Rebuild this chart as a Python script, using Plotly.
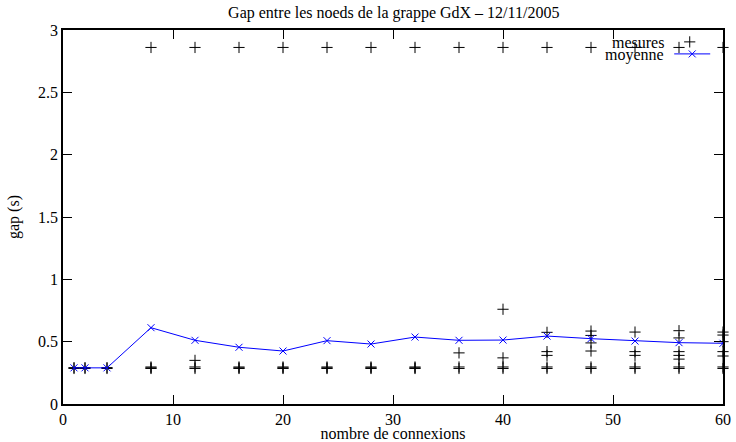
import plotly.graph_objects as go

# measured gap values (s) per number of connections
meas_x = [1, 1, 2, 2, 4, 4,
          8, 8, 8, 8,
          12, 12, 12, 12,
          16, 16, 16, 16,
          20, 20, 20, 20,
          24, 24, 24, 24,
          28, 28, 28, 28,
          32, 32, 32, 32,
          36, 36, 36, 36,
          40, 40, 40, 40, 40,
          44, 44, 44, 44, 44, 44,
          48, 48, 48, 48, 48, 48, 48,
          52, 52, 52, 52, 52, 52,
          56, 56, 56, 56, 56, 56, 56, 56,
          60, 60, 60, 60, 60, 60, 60, 60]
meas_y = [0.285, 0.292, 0.285, 0.292, 0.285, 0.292,
          2.86, 0.285, 0.29, 0.297,
          2.86, 0.285, 0.297, 0.35,
          2.86, 0.285, 0.29, 0.297,
          2.86, 0.285, 0.29, 0.297,
          2.86, 0.285, 0.29, 0.297,
          2.86, 0.285, 0.29, 0.297,
          2.86, 0.285, 0.29, 0.297,
          2.86, 0.285, 0.297, 0.41,
          2.86, 0.285, 0.297, 0.37, 0.76,
          2.86, 0.285, 0.297, 0.39, 0.42, 0.575,
          2.86, 0.285, 0.297, 0.425, 0.49, 0.55, 0.585,
          2.86, 0.285, 0.297, 0.39, 0.42, 0.577,
          2.86, 0.285, 0.297, 0.36, 0.39, 0.42, 0.53, 0.588,
          2.86, 0.285, 0.297, 0.385, 0.42, 0.5, 0.553, 0.577]

# mean gap per number of connections
mean_x = [1, 2, 4, 8, 12, 16, 20, 24, 28, 32, 36, 40, 44, 48, 52, 56, 60]
mean_y = [0.29, 0.29, 0.29, 0.612, 0.511, 0.455, 0.425, 0.508, 0.481,
          0.537, 0.511, 0.513, 0.545, 0.524, 0.505, 0.492, 0.487]

x_ticks = [0, 10, 20, 30, 40, 50, 60]
y_ticks = [0, 0.5, 1, 1.5, 2, 2.5, 3]
y_tick_labels = ["0", "0.5", "1", "1.5", "2", "2.5", "3"]

FONT = "Liberation Serif"
FS = 16

fig = go.Figure()
fig.add_trace(go.Scatter(
    x=meas_x, y=meas_y, mode="markers", name=" ", legend="legend",
    marker=dict(symbol="cross-thin", size=8, line=dict(width=1, color="black"), color="black"),
    cliponaxis=False,
))
fig.add_trace(go.Scatter(
    x=mean_x, y=mean_y, mode="lines+markers", name=" ", legend="legend2",
    line=dict(color="#0000ff", width=1),
    marker=dict(symbol="x-thin", size=7, line=dict(width=1, color="#0000ff"), color="#0000ff"),
))

axis_common = dict(
    showgrid=False, zeroline=False, showline=True, linecolor="black", linewidth=1.5,
    mirror="ticks", ticks="inside", ticklen=9, tickcolor="black", tickwidth=1,
    tickfont=dict(family=FONT, size=FS, color="black"), automargin=False,
)

legend_common = dict(bgcolor="rgba(0,0,0,0)", borderwidth=0, xanchor="left", yanchor="top",
                     font=dict(family=FONT, size=FS))

fig.update_layout(
    width=736, height=442,
    margin=dict(l=63, r=13, t=30, b=38),
    paper_bgcolor="white", plot_bgcolor="white",
    title=dict(text="Gap entre les noeds de la grappe GdX – 12/11/2005",
               x=0.535, xanchor="center", y=0.985, yanchor="top",
               font=dict(family=FONT, size=FS, color="black")),
    font=dict(family=FONT, size=FS, color="black"),
    xaxis=dict(range=[0, 60], tickvals=x_ticks, **axis_common,
               title=dict(text="nombre de connexions", font=dict(family=FONT, size=FS), standoff=0)),
    yaxis=dict(range=[0, 3], tickvals=y_ticks, ticktext=y_tick_labels, **axis_common,
               title=dict(text="gap (s)", font=dict(family=FONT, size=FS), standoff=14)),
    showlegend=True,
    legend=dict(x=0.917, y=1.0134, itemwidth=33, **legend_common),
    legend2=dict(x=0.9185, y=0.9813, itemwidth=36, **legend_common),
    annotations=[
        dict(text="mesures", xref="paper", yref="paper", x=0.9136, y=0.966,
             xanchor="right", yanchor="middle", showarrow=False,
             font=dict(family=FONT, size=FS, color="black")),
        dict(text="moyenne", xref="paper", yref="paper", x=0.9136, y=0.932,
             xanchor="right", yanchor="middle", showarrow=False,
             font=dict(family=FONT, size=FS, color="black")),
    ],
)

fig.write_html("out.html")
